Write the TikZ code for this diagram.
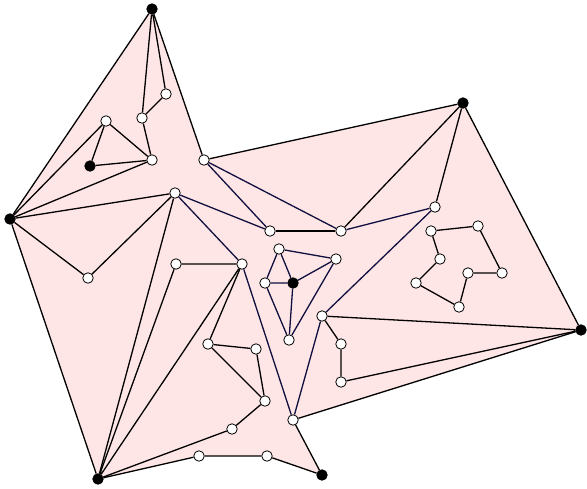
\documentclass[tikz,border=0pt]{standalone}
\usepackage{tikz}
\usetikzlibrary{backgrounds}

\definecolor{regionfill}{RGB}{255,230,230}
\definecolor{navyedge}{RGB}{15,15,64}

\begin{document}
\begin{tikzpicture}[
            x=1pt, y=-1pt,
            vertex/.style={
                circle,
                draw,
                fill=white,
                line width=0.8pt,
                inner sep=0pt,
                minimum size=10.5pt
            },
            anchorpt/.style={
                vertex,
                fill=black
            },
            edge/.style={line width=1.3pt},
            inner edge/.style={edge, draw=navyedge}
        ]
        \useasboundingbox (0,0) rectangle (587,488);

        % black vertices
        \node[anchorpt] (top) at (152,9) {};
        \node[anchorpt] (west) at (10,219) {};
        \node[anchorpt] (ne) at (463,103) {};
        \node[anchorpt] (east) at (581,330) {};
        \node[anchorpt] (sw) at (98,479) {};
        \node[anchorpt] (south) at (322,475) {};
        \node[anchorpt] (hub) at (90,166) {};
        \node[anchorpt] (core) at (293,283) {};

        % upper left
        \node[vertex] (u1) at (166,94) {};
        \node[vertex] (u2) at (142,118) {};
        \node[vertex] (u3) at (106,121) {};
        \node[vertex] (u4) at (152,160) {};
        \node[vertex] (u5) at (204,160) {};
        \node[vertex] (u6) at (175,193) {};
        \node[vertex] (u7) at (270,231) {};
        \node[vertex] (u9) at (435,207) {};
        \node[vertex] (u10) at (341,231) {};

        % hole on the right
        \node[vertex] (k1) at (431,231) {};
        \node[vertex] (k2) at (478,226) {};
        \node[vertex] (k3) at (502,273) {};
        \node[vertex] (k4) at (468,273) {};
        \node[vertex] (k5) at (459,307) {};
        \node[vertex] (k6) at (416,283) {};
        \node[vertex] (k7) at (440,259) {};

        % centre
        \node[vertex] (c1) at (279,249) {};
        \node[vertex] (c2) at (336,259) {};
        \node[vertex] (c3) at (265,283) {};
        \node[vertex] (c4) at (289,340) {};
        \node[vertex] (m1) at (322,316) {};
        \node[vertex] (m2) at (341,344) {};
        \node[vertex] (m3) at (341,382) {};

        % lower part
        \node[vertex] (d1) at (88,278) {};
        \node[vertex] (d2) at (176,264) {};
        \node[vertex] (d3) at (242,264) {};
        \node[vertex] (d4) at (208,344) {};
        \node[vertex] (d5) at (256,349) {};
        \node[vertex] (d6) at (265,401) {};
        \node[vertex] (d7) at (293,420) {};
        \node[vertex] (d8) at (232,429) {};
        \node[vertex] (d9) at (199,456) {};
        \node[vertex] (d10) at (267,456) {};

        \begin{scope}[on background layer]
            \fill[regionfill] (top.center) -- (u5.center) -- (ne.center) -- (east.center)
                -- (d7.center) -- (south.center) -- (d10.center) -- (d9.center)
                -- (sw.center) -- (west.center) -- cycle;
        \end{scope}

        % outer boundary
        \draw[edge] (top) -- (u5) -- (ne) -- (east) -- (d7) -- (south) -- (d10) -- (d9) -- (sw) -- (west) -- (top);

        \draw[edge] (top) -- (u2) -- (u1) -- (top);
        \draw[edge] (u2) -- (u4);
        \draw[edge] (west) -- (u3) -- (hub) -- (u4) -- (u3);
        \draw[edge] (west) -- (u4);
        \draw[edge] (west) -- (u6) -- (d1) -- (west);
        \draw[edge] (sw) -- (u6);
        \draw[edge] (sw) -- (d2) -- (d3) -- (sw);
        \draw[edge] (sw) -- (d8) -- (d6) -- (d5) -- (d4) -- (d3);
        \draw[edge] (d4) -- (d6);
        \draw[edge] (ne) -- (u10);
        \draw[edge] (ne) -- (u9);
        \draw[edge] (east) -- (m1) -- (m2) -- (m3) -- (east);
        \draw[edge] (k1) -- (k2) -- (k3) -- (k4) -- (k5) -- (k6) -- (k7) -- (k1);
        \draw[edge, line width=1.7pt] (u7) -- (u10);

        % dark inner edges
        \draw[inner edge] (u5) -- (u7) -- (u6) -- (d3) -- (d7) -- (m1) -- (u9) -- (u10) -- (u5);
        \draw[inner edge] (c1) -- (c2) -- (c4) -- (c3) -- (c1);
        \draw[inner edge] (c1) -- (core) -- (c2);
        \draw[inner edge] (c3) -- (core) -- (c4);

    \end{tikzpicture}
\end{document}
